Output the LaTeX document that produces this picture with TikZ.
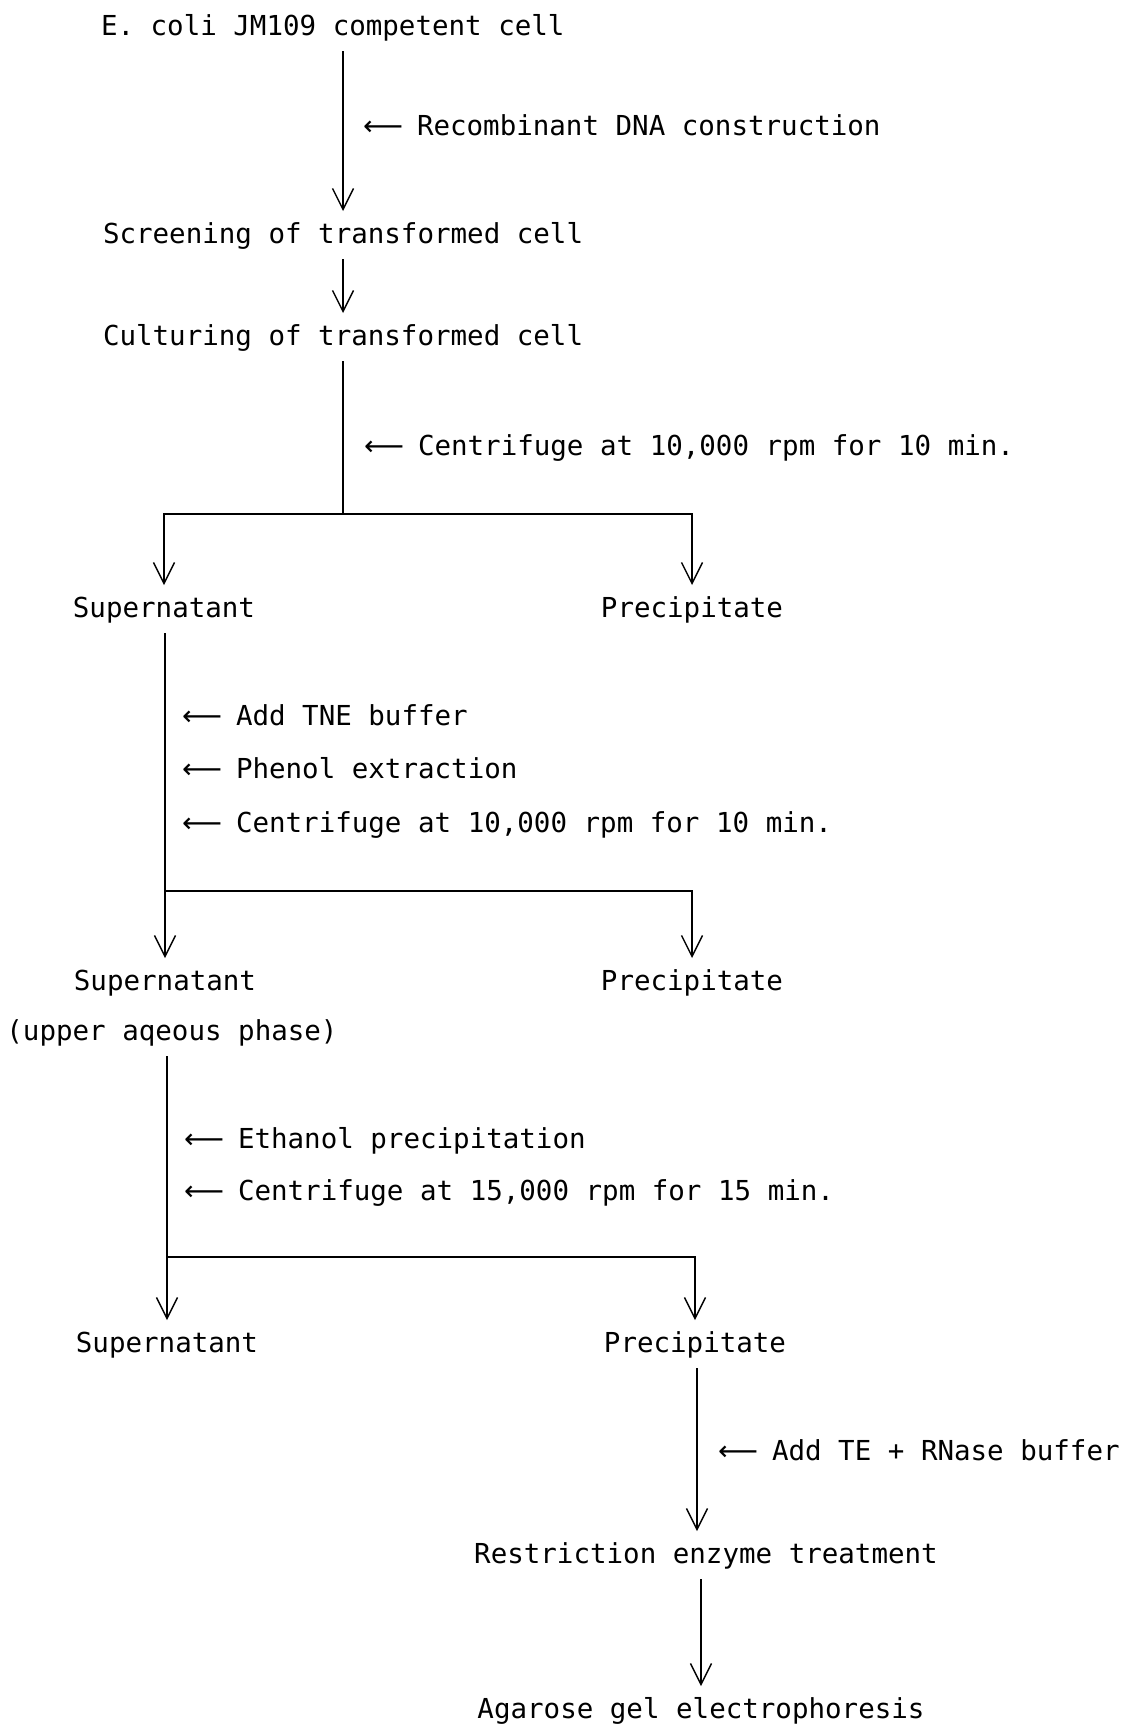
\documentclass[tikz,border=0pt]{standalone}
\usepackage{fontspec}
\usepackage{graphicx}
\usetikzlibrary{arrows.meta}
\newfontfamily\flowmono{DejaVu Sans Mono}
\newfontfamily\flowarrfont{DejaVu Sans}
% leading arrow of each step label
\newcommand\stepmark{\makebox[54pt][l]{\resizebox{40pt}{\height}{\flowarrfont ⟵}}}
\begin{document}
\begin{tikzpicture}[x=1pt,y=-1pt,
  txt/.style={inner sep=0pt, outer sep=0pt, text height=20pt, text depth=7pt,
    font=\flowmono\fontsize{27.5}{30}\selectfont},
  lbl/.style={txt, anchor=base west},
  vline/.style={line width=1.4pt, shorten <=9pt},
  bar/.style={line width=2.2pt, line cap=rect},
  flow/.style={line width=1.4pt, shorten <=9pt, shorten >=12pt,
    -{Straight Barb[length=21pt,width=21pt,line width=1.4pt]}},
  branch/.style={line width=1.4pt, shorten >=12pt,
    -{Straight Barb[length=21pt,width=21pt,line width=1.4pt]}}]
\useasboundingbox (0,0) rectangle (1130,1727);
\fill[white] (0,0) rectangle (1130,1727);

% stages
\node[txt,anchor=base west] (ecoli)  at (101,35)  {E. coli JM109 competent cell};
\node[txt,anchor=base west] (screen) at (103,243) {Screening of transformed cell};
\node[txt,anchor=base west] (cultur) at (103,345) {Culturing of transformed cell};
\node[txt,anchor=base] (sup1) at (164,617) {Supernatant};
\node[txt,anchor=base] (pre1) at (692,617) {Precipitate};
\node[txt,anchor=base] (sup2) at (165,990) {Supernatant};
\node[txt,anchor=base] (pre2) at (692,990) {Precipitate};
\node[txt,anchor=base] (aq)   at (172,1040) {(upper aqeous phase)};
\node[txt,anchor=base] (sup3) at (167,1352) {Supernatant};
\node[txt,anchor=base] (pre3) at (695,1352) {Precipitate};
\node[txt,anchor=base] (restr) at (706,1563) {Restriction enzyme treatment};
\node[txt,anchor=base] (agar)  at (701,1718) {Agarose gel electrophoresis};

% operations applied along the way
\node[lbl] (l1) at (363,135)  {\stepmark Recombinant DNA construction};
\node[lbl] (l2) at (364,455)  {\stepmark Centrifuge at 10,000 rpm for 10 min.};
\node[lbl] (l3) at (182,725)  {\stepmark Add TNE buffer};
\node[lbl] (l4) at (182,778)  {\stepmark Phenol extraction};
\node[lbl] (l5) at (182,832)  {\stepmark Centrifuge at 10,000 rpm for 10 min.};
\node[lbl] (l6) at (184,1148) {\stepmark Ethanol precipitation};
\node[lbl] (l7) at (184,1200) {\stepmark Centrifuge at 15,000 rpm for 15 min.};
\node[lbl] (l8) at (718,1460) {\stepmark Add TE + RNase buffer};

% guide coordinates
\coordinate (sp) at (343,0);
\coordinate (rx) at (697,0);
\coordinate (j1) at (343,514);
\coordinate (j2) at (165,891);
\coordinate (j3) at (167,1257);

% main column
\draw[flow] (ecoli.south -| sp) -- (screen.north -| sp);
\draw[flow] (screen.south -| sp) -- (cultur.north -| sp);
\draw[vline] (cultur.south -| sp) -- (j1);

% first split
\draw[bar] (sup1 |- j1) -- (pre1 |- j1);
\draw[branch] (sup1 |- j1) -- (sup1.north);
\draw[branch] (pre1 |- j1) -- (pre1.north);

% second split
\draw[vline] (sup1.south -| j2) -- (j2);
\draw[bar] (sup2 |- j2) -- (pre2 |- j2);
\draw[branch] (sup2 |- j2) -- (sup2.north);
\draw[branch] (pre2 |- j2) -- (pre2.north);

% third split
\draw[vline] (aq.south -| j3) -- (j3);
\draw[bar] (sup3 |- j3) -- (pre3 |- j3);
\draw[branch] (sup3 |- j3) -- (sup3.north);
\draw[branch] (pre3 |- j3) -- (pre3.north);

% analysis of the precipitate
\draw[flow] (pre3.south -| rx) -- (restr.north -| rx);
\draw[flow] (restr.south -| agar) -- (agar.north);
\end{tikzpicture}
\end{document}
